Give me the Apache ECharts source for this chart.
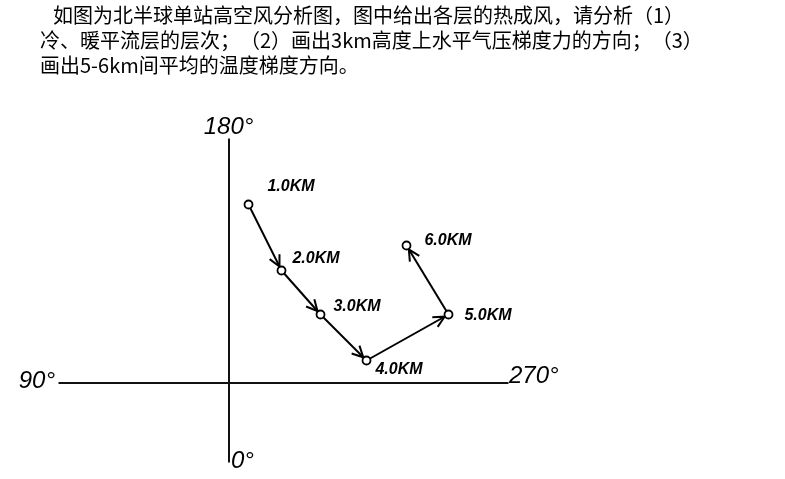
<!DOCTYPE html>
<html><head><meta charset="utf-8">
<script src="https://cdn.jsdelivr.net/npm/echarts@6/dist/echarts.min.js"></script>
<style>html,body{margin:0;padding:0;background:#fff}#c{width:785px;height:479px}</style>
</head><body><div id="c"></div>
<script>
// ---- data ----
const questionLines = [
  '如图为北半球单站高空风分析图，图中给出各层的热成风，请分析（1）',
  '冷、暖平流层的层次；（2）画出3km高度上水平气压梯度力的方向；（3）',
  '画出5-6km间平均的温度梯度方向。'
];
const levels = ['1.0KM', '2.0KM', '3.0KM', '4.0KM', '5.0KM', '6.0KM'];
const windX = [2.0, 5.3, 9.2, 13.8, 22.0, 17.8];
const windY = [17.8, 11.2, 6.8, 2.2, 6.8, 13.7];
const axisLabels = ['180°', '0°', '90°', '270°'];
const axisEndX = [0, 0, -17.0, 28.0];
const axisEndY = [24.4, -8.0, 0, 0];

// ---- styles (not data) ----
const levelLabelOffsets = [[14, -18], [6, -12], [8, -8], [4, 9], [11, 1], [13, -5]];
const axisLabelStyle = [
  {position: 'top', offset: [0, 3]},
  {position: 'right', offset: [0, -1]},
  {position: 'left', offset: [-1, -1]},
  {position: 'right', offset: [-2, -6]}
];
const handFont = {fontFamily: 'Liberation Sans', fontStyle: 'italic', fontWeight: 'bold', color: '#000', opacity: 1};

const chart = echarts.init(document.getElementById('c'), null, {renderer: 'canvas'});

const segRows = [];
for (let i = 0; i < levels.length - 1; i++) {
  segRows.push([windX[i], windY[i], windX[i + 1], windY[i + 1]]);
}
const axesSegs = [
  {coords: [[axisEndX[2], axisEndY[2]], [axisEndX[3], axisEndY[3]]]},
  {coords: [[axisEndX[0], axisEndY[0]], [axisEndX[1], axisEndY[1]]]}
];

function renderArrow(params, api) {
  const p1 = api.coord([api.value(0), api.value(1)]);
  const p2 = api.coord([api.value(2), api.value(3)]);
  const dx = p2[0] - p1[0], dy = p2[1] - p1[1];
  const L = Math.hypot(dx, dy) || 1;
  const ux = dx / L, uy = dy / L, nx = -uy, ny = ux;
  const gap = 4.5, back = 11, half = 5.5;
  const tip = [p2[0] - ux * gap, p2[1] - uy * gap];
  const b = [tip[0] - ux * back, tip[1] - uy * back];
  return {
    type: 'group',
    children: [
      {type: 'line', shape: {x1: p1[0], y1: p1[1], x2: p2[0], y2: p2[1]},
        style: {stroke: '#000', lineWidth: 2}},
      {type: 'polyline', shape: {points: [[b[0] + nx * half, b[1] + ny * half], tip, [b[0] - nx * half, b[1] - ny * half]]},
        style: {stroke: '#000', lineWidth: 2, fill: null, lineJoin: 'miter'}}
    ]
  };
}

chart.setOption({
  backgroundColor: '#fff',
  animation: false,
  graphic: questionLines.map((t, i) => ({
    type: 'text',
    style: {
      text: t,
      x: i === 0 ? 53 : 40,
      y: 15 + i * 25,
      fill: '#000',
      font: '20px "Noto Sans CJK SC"',
      verticalAlign: 'middle'
    }
  })),
  grid: {left: 8.5, right: 6.5, top: 32.5, bottom: 6.5},
  xAxis: {type: 'value', min: -22, max: 55, show: false},
  yAxis: {type: 'value', min: -9, max: 35, show: false},
  series: [
    {
      type: 'lines',
      coordinateSystem: 'cartesian2d',
      data: axesSegs,
      symbol: ['none', 'none'],
      lineStyle: {color: '#111', width: 2, opacity: 1},
      z: 1
    },
    {
      type: 'custom',
      coordinateSystem: 'cartesian2d',
      data: segRows,
      encode: {x: [0, 2], y: [1, 3]},
      renderItem: renderArrow,
      clip: false,
      silent: true,
      z: 2
    },
    {
      type: 'scatter',
      data: levels.map((n, i) => ({name: n, value: [windX[i], windY[i]],
        label: {offset: levelLabelOffsets[i]}})),
      symbol: 'circle',
      symbolSize: 8,
      itemStyle: {color: '#fff', borderColor: '#000', borderWidth: 1.8, opacity: 1},
      label: Object.assign({show: true, position: 'right', distance: 0, fontSize: 16,
        formatter: p => p.name}, handFont),
      z: 3
    },
    {
      type: 'scatter',
      data: axisLabels.map((n, i) => ({name: n, value: [axisEndX[i], axisEndY[i]],
        label: axisLabelStyle[i]})),
      symbol: 'circle',
      symbolSize: 1,
      itemStyle: {color: 'rgba(0,0,0,0)', opacity: 1},
      label: Object.assign({show: true, distance: 2, fontSize: 24,
        formatter: p => p.name}, handFont, {fontWeight: 'normal'}),
      z: 3
    }
  ]
});
</script>
</body></html>
